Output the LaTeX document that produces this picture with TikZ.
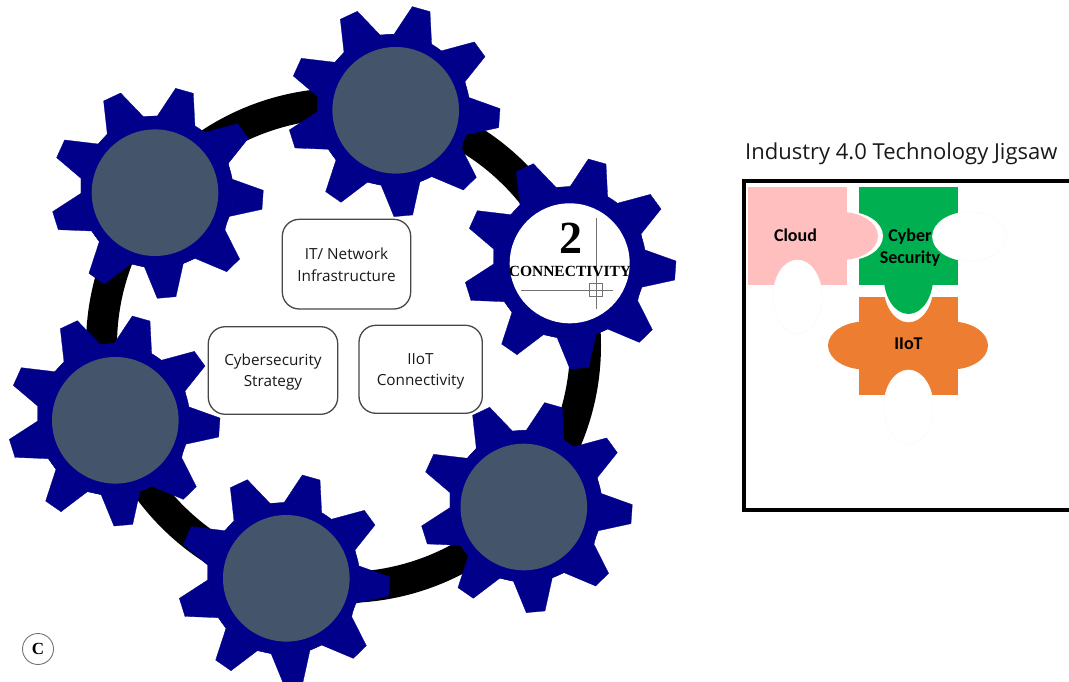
\documentclass[tikz,border=0pt]{standalone}
\usepackage{fontspec}
\setmainfont{Open Sans}
\newfontfamily\carl{Carlito}
\newfontfamily\serifb{Liberation Serif}
\definecolor{gearblue}{HTML}{00008B}
\definecolor{gearline}{HTML}{0A0A7C}
\definecolor{slate}{HTML}{44546A}
\definecolor{cloudpink}{HTML}{FFBFBF}
\definecolor{cybergreen}{HTML}{00B050}
\definecolor{iiotorange}{HTML}{ED7D31}
\definecolor{faint}{HTML}{FAFAFA}
\tikzset{
  gearbody/.style={fill=gearblue,draw=gearblue,line width=0.3pt},
  gearrim/.style={draw=gearline,fill=gearblue,line width=0.3pt},
  disc/.style={circle,fill=slate,draw=none,minimum size=126.6pt,inner sep=0pt},
  whitedisc/.style={circle,fill=white,draw=none,minimum size=120pt,inner sep=0pt},
  topicbox/.style={draw=black!72,line width=1.3pt,rounded corners=17pt,fill=white},
  topictext/.style={align=center,font=\fontsize{15.3}{21.5}\selectfont,text=black!90,inner sep=0pt},
  hole/.style={fill=white,draw=faint,line width=0.6pt},
  piecetext/.style={align=center,font=\carl\bfseries\fontsize{18}{22}\selectfont,text=black,inner sep=0pt},
  crosshair/.style={draw=black!55,line width=1pt}
}
\newcommand{\gearat}[2]{%
  \begin{scope}[shift={(#1,#2)},x=0.33333pt,y=-0.33333pt]
    \fill[gearbody] (0,-228)--(55,-311)--(108,-296)--(113,-196)
      --(141,-178)--(241,-205)--(273,-161)--(213,-86)
      --(223,-39)--(318,-5)--(314,52)--(213,74)
      --(203,114)--(247,201)--(208,239)--(113,199)
      --(78,214)--(56,314)--(0,319)--(-39,224)
      --(-80,216)--(-159,276)--(-205,244)--(-174,149)
      --(-197,117)--(-297,113)--(-314,59)--(-229,4)
      --(-229,-41)--(-302,-103)--(-278,-156)--(-177,-144)
      --(-150,-174)--(-161,-273)--(-110,-297)--(-42,-226)--cycle;
    \draw[gearrim] (0,0) circle (228);
  \end{scope}}
\begin{document}
\begin{tikzpicture}[x=1pt,y=-1pt]
\useasboundingbox (0,0) rectangle (1069,682);
% ring
\draw[black,line width=31pt] (343.5,345.5) circle (242);
% gears
\gearat{394}{110.3}
\gearat{570}{262.7}
\gearat{526.3}{506.3}
\gearat{284}{578.7}
\gearat{114}{419.7}
\gearat{157.3}{192}
\node[disc] (d1) at (395.7,110.3) {};
\node[whitedisc] (d2) at (569.7,263.3) {};
\node[disc] (d3) at (523.8,507) {};
\node[disc] (d4) at (286.3,578.3) {};
\node[disc] (d5) at (115.3,420.3) {};
\node[disc] (d6) at (155,192.7) {};
% connectivity emblem
\coordinate (cv1) at (596,218);
\coordinate (cv2) at (596,309);
\coordinate (ch1) at (521,290);
\coordinate (ch2) at (613,290);
\draw[crosshair] (cv1)--(cv2);
\draw[crosshair] (ch1)--(ch2);
\draw[crosshair] (589.5,283.5) rectangle (602.5,296.5);
\node[font=\serifb\bfseries\fontsize{46}{46}\selectfont,inner sep=0pt] (two) at (571,238) {2};
\node[font=\serifb\bfseries\fontsize{15.5}{16}\selectfont,inner sep=0pt] (conn) at (570,271) {CONNECTIVITY};
% topic boxes
\draw[topicbox] (282.3,219.3) rectangle (410.7,309);
\draw[topicbox] (208.3,326.7) rectangle (337.7,414.3);
\draw[topicbox] (359,325.3) rectangle (482.3,413.3);
\node[topictext] (t1) at (346.5,265) {IT/ Network\\Infrastructure};
\node[topictext] (t2) at (273,372) {Cybersecurity\\Strategy};
\node[topictext] (t3) at (420.5,371.5) {IIoT\\Connectivity};
% C mark
\node[circle,draw=black!55,line width=0.9pt,minimum size=31pt,inner sep=0pt,font=\serifb\bfseries\fontsize{17}{17}\selectfont] (c) at (38,649) {C};
% title
\node[anchor=base west,font=\fontsize{22}{24}\selectfont,text=black!90,inner sep=0pt] (title) at (745,159.5) {Industry 4.0 Technology Jigsaw};
% frame
\draw[black,line width=4pt] (1072,181.5)--(744,181.5)--(744,509.5)--(1072,509.5);
% orange piece
\fill[iiotorange] (859,297) rectangle (958,395);
\fill[iiotorange] (865,345.5) ellipse (37 and 24);
\fill[iiotorange] (951,345.5) ellipse (37 and 24);
\draw[hole] (908.5,285) ellipse (24.7 and 37);
\draw[hole] (908.5,407) ellipse (24.7 and 37);
% green piece
\fill[cybergreen] (859,187) rectangle (958,285);
\fill[cybergreen] (908.5,277) ellipse (24.7 and 37);
\fill[white] (846,236) ellipse (37 and 24.5);
\draw[hole] (969.5,236.5) ellipse (37 and 24.5);
% cloud piece
\fill[cloudpink] (748,187) rectangle (847,285);
\fill[cloudpink] (841,236) ellipse (37 and 24);
\draw[hole] (797.5,297) ellipse (24.5 and 37);
% piece labels
\node[piecetext] (cl) at (795.5,235) {Cloud};
\node[piecetext] (cy) at (910,247.5) {Cyber\\Security};
\node[piecetext] (ii) at (908.5,343.5) {IIoT};
\end{tikzpicture}
\end{document}
